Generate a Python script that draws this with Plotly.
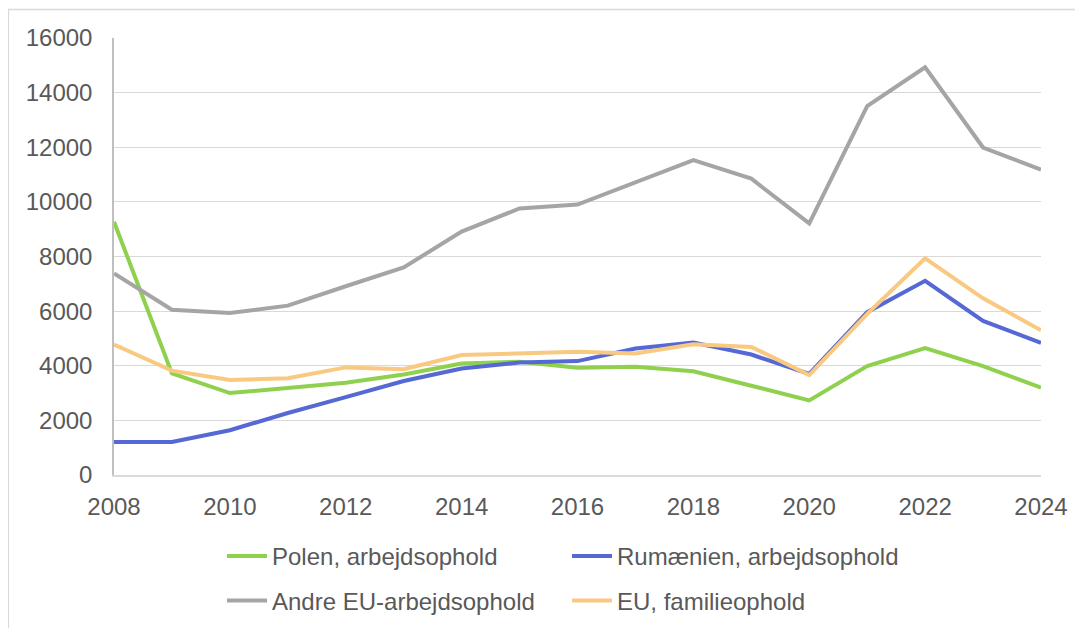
import plotly.graph_objects as go

# ── Data ──────────────────────────────────────────────────────────────────────
YEARS = list(range(2008, 2025))

POLEN = [9270, 3720, 3000, 3200, 3380, 3680, 4080, 4150, 3930,
         3960, 3800, 3270, 2730, 3990, 4650, 3990, 3200]
RUMAENIEN = [1210, 1210, 1640, 2270, 2850, 3440, 3900, 4120, 4170,
             4630, 4850, 4410, 3700, 5960, 7110, 5640, 4840]
ANDRE_EU = [7380, 6050, 5930, 6200, 6910, 7600, 8910, 9760, 9900,
            10710, 11530, 10850, 9210, 13510, 14930, 11990, 11180]
EU_FAMILIE = [4780, 3820, 3480, 3540, 3940, 3870, 4390, 4460, 4510,
              4450, 4790, 4690, 3660, 5900, 7930, 6470, 5300]

SERIES = [
    ("Polen, arbejdsophold", POLEN, "#8FD14F", "legend"),
    ("Rumænien, arbejdsophold", RUMAENIEN, "#5568D3", "legend"),
    ("Andre EU-arbejdsophold", ANDRE_EU, "#A5A5A5", "legend2"),
    ("EU, familieophold", EU_FAMILIE, "#F9C981", "legend2"),
]

X_TICKS = list(range(2008, 2025, 2))

# ── Style tokens ──────────────────────────────────────────────────────────────
FONT = "Arial, Liberation Sans, sans-serif"
TEXT = "#595959"
GRID = "#D9D9D9"
AXIS = "#BFBFBF"

fig = go.Figure()
for name, vals, color, leg in SERIES:
    fig.add_trace(go.Scatter(
        x=YEARS, y=vals, name=name, mode="lines",
        line=dict(color=color, width=4),
        legend=leg,
    ))

# two one-row legends stand in for Excel's 2x2 legend grid
_LEG = dict(
    orientation="h", xanchor="left", yanchor="middle",
    entrywidth=290, entrywidthmode="pixels",
    font=dict(family=FONT, size=24, color=TEXT),
    bgcolor="rgba(0,0,0,0)", itemwidth=40,
)

fig.update_layout(
    width=1083, height=628,
    paper_bgcolor="white", plot_bgcolor="white",
    font=dict(family=FONT, color=TEXT, size=24),
    margin=dict(l=106, r=50, t=30, b=158),
    xaxis=dict(
        range=[2008, 2024], tickvals=X_TICKS, showgrid=False,
        showline=True, linecolor=GRID, linewidth=1.5,
        ticks="", zeroline=False, ticklabelstandoff=9,
        tickfont=dict(size=24, color=TEXT),
    ),
    yaxis=dict(
        range=[0, 16000], dtick=2000, tickformat="d",
        gridcolor=GRID, gridwidth=1.4,
        showline=True, linecolor=AXIS, linewidth=1.5,
        ticks="", zeroline=False, ticklabelstandoff=15,
        tickfont=dict(size=24, color=TEXT),
    ),
    legend=dict(_LEG, x=0.1165, y=-0.186),
    legend2=dict(_LEG, x=0.1165, y=-0.288),
    shapes=[dict(
        type="rect", xref="paper", yref="paper",
        x0=-0.114, x1=1.2, y0=-0.6, y1=1.065,
        line=dict(color=GRID, width=1.5), layer="below",
    )],
)

fig.write_html("out.html")
